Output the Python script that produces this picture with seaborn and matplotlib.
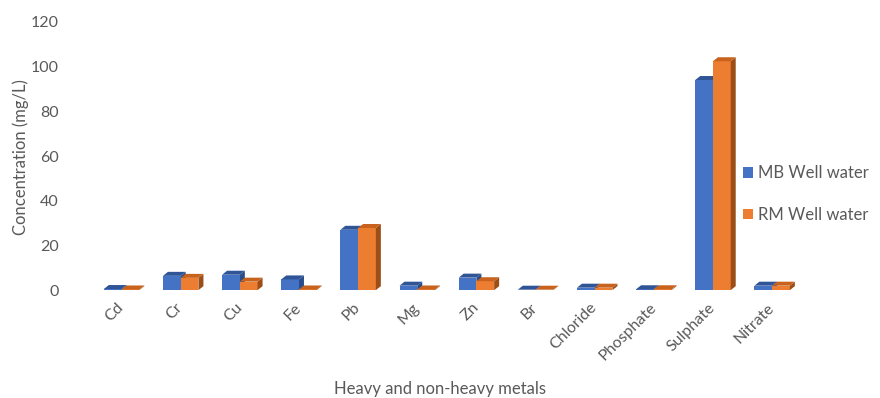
import matplotlib
matplotlib.use("Agg")
import matplotlib.pyplot as plt
from matplotlib.patches import Polygon
import numpy as np
import pandas as pd
import seaborn as sns

# Measured concentrations (mg/L) for the two well water sources
metals = ["Cd", "Cr", "Cu", "Fe", "Pb", "Mg", "Zn", "Br",
          "Chloride", "Phosphate", "Sulphate", "Nitrate"]
mb_well = [0.5, 6.4, 6.9, 4.8, 27.0, 2.0, 5.6, 0.2, 1.1, 0.4, 94.0, 2.0]
rm_well = [0.3, 5.5, 3.8, 0.3, 27.8, 0.3, 4.0, 0.2, 1.1, 0.4, 102.4, 2.0]
series = ["MB Well water", "RM Well water"]
yticks = [0, 20, 40, 60, 80, 100, 120]

front = ["#4472C4", "#ED7D31"]
top = ["#2F5597", "#C8621C"]
side = ["#2A4D8A", "#9C4E18"]

df = pd.DataFrame({
    "metal": metals * 2,
    "value": mb_well + rm_well,
    "site": [series[0]] * len(metals) + [series[1]] * len(metals),
})

sns.set_theme(style="white")
plt.rcParams["font.family"] = ["Lato", "DejaVu Sans"]

fig = plt.figure(figsize=(8.8, 3.98), dpi=100)
ax = fig.add_axes([0.1045, 0.271, 0.8065, 0.674])

sns.barplot(data=df, x="metal", y="value", hue="site", palette=front,
            width=0.6, saturation=1, linewidth=0, legend=False, ax=ax,
            zorder=2)

ax.set_ylim(0, 120)
ax.set_xlim(-0.5, len(metals) - 0.5)

# Pseudo-3D depth for each bar: slanted top face and right side face
dx = 5.0 / 59.0
dy = 4.0 / 2.245
for k, cont in enumerate(ax.containers):
    for bar in cont:
        x0 = bar.get_x()
        w = bar.get_width()
        h = bar.get_height()
        x1 = x0 + w
        z = 2 + k * 3
        bar.set_zorder(z + 1)
        ax.add_patch(Polygon([(x1, 0), (x1 + dx, dy), (x1 + dx, h + dy), (x1, h)],
                             closed=True, facecolor=side[k], linewidth=0,
                             zorder=z + (0 if k == 0 else 1.5)))
        ax.add_patch(Polygon([(x0, h), (x1, h), (x1 + dx, h + dy), (x0 + dx, h + dy)],
                             closed=True, facecolor=top[k], linewidth=0,
                             zorder=z + 2))

for s in ax.spines.values():
    s.set_visible(False)
ax.grid(False)

ax.set_yticks(yticks)
ax.set_yticklabels([str(v) for v in yticks], fontsize=11.5, color="#595959")
ax.tick_params(axis="y", length=0, pad=24)
ax.tick_params(axis="x", length=0, pad=11)
ax.set_xticks(range(len(metals)))
ax.set_xticklabels(metals, rotation=45, ha="right", va="center",
                   rotation_mode="anchor", fontsize=11.5, color="#595959")
ax.set_xlabel("")
ax.set_ylabel("")

fig.text(0.023, 0.605, "Concentration (mg/L)", rotation=90, ha="center",
         va="center", fontsize=12, color="#595959")
fig.text(0.5, 0.022, "Heavy and non-heavy metals", ha="center",
         va="center", fontsize=12, color="#595959")

handles = [plt.Rectangle((0, 0), 1, 1, facecolor=c, linewidth=0) for c in front]
fig.legend(handles, series, loc="center left",
           bbox_to_anchor=(735 / 880, (398 - 194) / 398),
           frameon=False, fontsize=12, labelcolor="#595959",
           handlelength=0.6, handleheight=0.6, handletextpad=0.3,
           labelspacing=1.55, borderpad=0)

fig.savefig("out.png", dpi=100)
